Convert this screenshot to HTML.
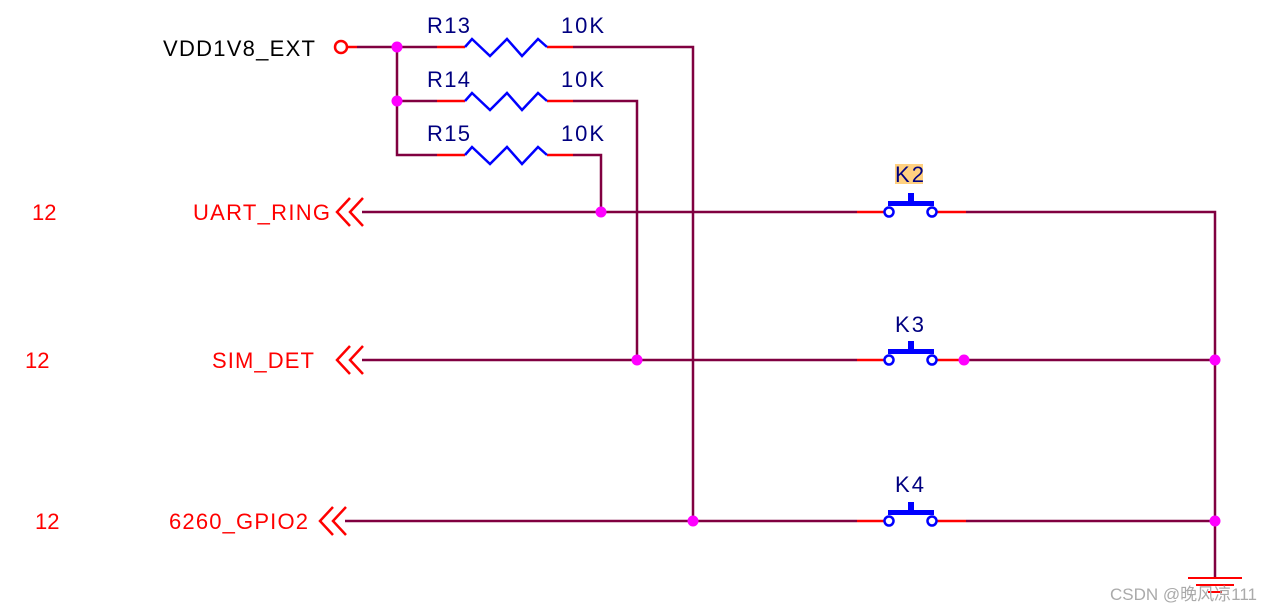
<!DOCTYPE html>
<html><head><meta charset="utf-8"><style>body{margin:0;background:#fff}svg{display:block}</style></head>
<body>
<svg width="1276" height="612" viewBox="0 0 1276 612" xmlns="http://www.w3.org/2000/svg" font-family="Liberation Sans, Arial, sans-serif">
<g stroke="#800040" stroke-width="2.5" fill="none">
<path d="M357 47H437M573 47H693V521"/>
<path d="M397 47V155H437"/>
<path d="M397 101H437M573 101H637V360"/>
<path d="M573 155H601V212"/>
<path d="M362 212H857M966 212H1215V578"/>
<path d="M362 360H857M966 360H1215"/>
<path d="M345 521H857M966 521H1215"/>
</g>
<g stroke="#ff0000" stroke-width="2.5" fill="none">
<path d="M437 47H465M547 47H573M437 101H465M547 101H573M437 155H465M547 155H573"/>
<path d="M857 212H885M937 212H966M857 360H885M937 360H966M857 521H885M937 521H966"/>
<circle cx="341" cy="47" r="6"/>
<path d="M346 47H357"/>
<path d="M363 198L350 212L363 226M350 198L337 212L350 226"/>
<path d="M363 346L350 360L363 374M350 346L337 360L350 374"/>
<path d="M346 507L333 521L346 535M333 507L320 521L333 535"/>
<path d="M1188 578H1242M1196 585H1234M1208 592H1222" stroke-width="2"/>
</g>
<g stroke="#0000ff" stroke-width="2.5" fill="none">
<path d="M465 47L472 39L490 56L507 39L522 56L538 39L547 47"/>
<path d="M465 101L472 93L490 110L507 93L522 110L538 93L547 101"/>
<path d="M465 155L472 147L490 164L507 147L522 164L538 147L547 155"/>
</g>
<g fill="none" stroke="#0000ff" stroke-width="2.5">
<circle cx="889" cy="212" r="4.5"/><circle cx="932" cy="212" r="4.5"/>
<circle cx="889" cy="360" r="4.5"/><circle cx="932" cy="360" r="4.5"/>
<circle cx="889" cy="521" r="4.5"/><circle cx="932" cy="521" r="4.5"/>
</g>
<g fill="#0000ff">
<rect x="888" y="201" width="46" height="5"/><rect x="908" y="193" width="6" height="9"/>
<rect x="888" y="349" width="46" height="5"/><rect x="908" y="341" width="6" height="9"/>
<rect x="888" y="510" width="46" height="5"/><rect x="908" y="502" width="6" height="9"/>
</g>
<g fill="#ff00ff">
<circle cx="397" cy="47" r="5.5"/><circle cx="397" cy="101" r="5.5"/>
<circle cx="601" cy="212" r="5.5"/><circle cx="637" cy="360" r="5.5"/><circle cx="693" cy="521" r="5.5"/>
<circle cx="964" cy="360" r="5.5"/><circle cx="1215" cy="360" r="5.5"/><circle cx="1215" cy="521" r="5.5"/>
</g>
<rect x="895" y="164" width="28" height="20" fill="#ffd080"/>
<g font-size="22" fill="#000080">
<text x="427" y="33" textLength="43">R13</text><text x="561" y="33" textLength="43">10K</text>
<text x="427" y="87" textLength="43">R14</text><text x="561" y="87" textLength="43">10K</text>
<text x="427" y="141" textLength="43">R15</text><text x="561" y="141" textLength="43">10K</text>
<text x="895" y="182" textLength="29">K2</text><text x="895" y="332" textLength="29">K3</text><text x="895" y="492" textLength="29">K4</text>
</g>
<text x="163" y="56" font-size="22" fill="#000" textLength="152">VDD1V8_EXT</text>
<g font-size="22" fill="#ff0000">
<text x="193" y="220" textLength="137">UART_RING</text>
<text x="212" y="368" textLength="102">SIM_DET</text>
<text x="169" y="529" textLength="139">6260_GPIO2</text>
<text x="32" y="220">12</text><text x="25" y="368">12</text><text x="35" y="529">12</text>
</g>
<text x="1110" y="600" font-size="17" fill="#aaaaaa" font-family="Liberation Sans, Noto Sans CJK SC, sans-serif">CSDN @晚风凉111</text>
</svg>
</body></html>
